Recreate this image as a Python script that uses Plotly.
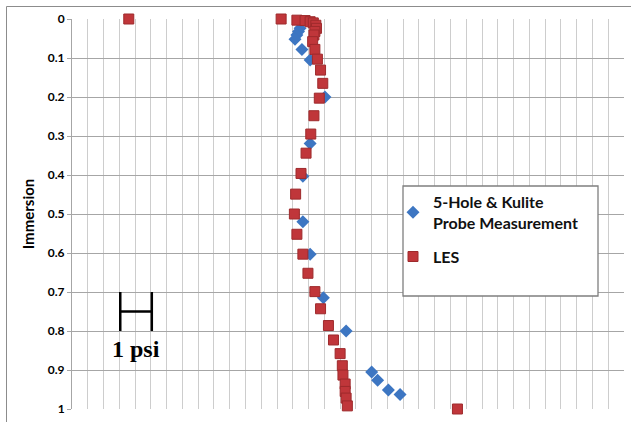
import plotly.graph_objects as go

# Pressure offset (psi) vs immersion
probe_x = [7.23, 7.18, 7.13, 7.07, 7.29, 7.55, 8.02, 7.55, 7.32, 7.32, 7.55, 7.97, 8.69, 9.50, 9.69, 10.03, 10.40]
probe_y = [0.024, 0.032, 0.041, 0.052, 0.078, 0.105, 0.200, 0.319, 0.403, 0.520, 0.603, 0.715, 0.800, 0.905, 0.926, 0.951, 0.963]

les_x = [1.80, 6.63, 7.13, 7.39, 7.55, 7.65, 7.73, 7.75, 7.70, 7.67, 7.63, 7.70, 7.78, 7.88, 7.95, 7.84,
         7.67, 7.57, 7.42, 7.26, 7.09, 7.05, 7.13, 7.32, 7.48, 7.70, 7.88, 8.13, 8.29, 8.50, 8.57, 8.59,
         8.66, 8.66, 8.69, 8.73, 12.22]
les_y = [0.0, 0.0, 0.003, 0.004, 0.007, 0.010, 0.016, 0.024, 0.032, 0.041, 0.058, 0.078, 0.103, 0.131, 0.165, 0.203,
         0.248, 0.295, 0.344, 0.396, 0.449, 0.500, 0.552, 0.603, 0.652, 0.699, 0.743, 0.786, 0.823, 0.858, 0.889, 0.913,
         0.936, 0.955, 0.972, 0.992, 1.0]

y_ticks = [0, 0.1, 0.2, 0.3, 0.4, 0.5, 0.6, 0.7, 0.8, 0.9, 1]
y_labels = ["0", "0.1", "0.2", "0.3", "0.4", "0.5", "0.6", "0.7", "0.8", "0.9", "1"]

fig = go.Figure()
fig.add_trace(go.Scatter(
    x=probe_x, y=probe_y, mode="markers", name="5-Hole & Kulite<br>Probe Measurement",
    legendgroup="probe",
    marker=dict(symbol="diamond", size=10, color="#3d76c2", line=dict(width=0)),
    cliponaxis=False,
))
fig.add_trace(go.Scatter(
    x=les_x, y=les_y, mode="markers", name="LES",
    legendgroup="les",
    marker=dict(symbol="square", size=10, color="#c0363a", line=dict(width=1, color="#9e2a2c")),
    cliponaxis=False,
))

shapes = [
    # outer chart border
    dict(type="rect", xref="paper", yref="paper",
         x0=(6.5 - 72) / 552, x1=(660 - 72) / 552, y0=(409 - 440) / 390, y1=(409 - 6.5) / 390,
         line=dict(color="#8c8c8c", width=1), fillcolor="rgba(0,0,0,0)", layer="below"),
    # legend box
    dict(type="rect", xref="paper", yref="paper",
         x0=(403 - 72) / 552, x1=(598 - 72) / 552, y0=(409 - 296) / 390, y1=(409 - 186) / 390,
         line=dict(color="#7f7f7f", width=1.3), fillcolor="white", layer="above"),
    # 1 psi scale bar
    dict(type="line", xref="x", yref="y", x0=1.53, x1=1.53, y0=0.70, y1=0.80, line=dict(color="black", width=2.5)),
    dict(type="line", xref="x", yref="y", x0=2.53, x1=2.53, y0=0.70, y1=0.80, line=dict(color="black", width=2.5)),
    dict(type="line", xref="x", yref="y", x0=1.53, x1=2.53, y0=0.75, y1=0.75, line=dict(color="black", width=2.5)),
]

fig.update_layout(
    width=631, height=422,
    margin=dict(l=72, r=7, t=19, b=13),
    paper_bgcolor="white", plot_bgcolor="white",
    shapes=shapes,
    showlegend=True,
    legend=dict(
        x=(393 - 72) / 552, y=(409 - 185) / 390, xanchor="left", yanchor="top",
        bgcolor="rgba(0,0,0,0)", borderwidth=0,
        font=dict(family="Lato", size=16, color="#111111", weight="bold"),
        traceorder="grouped", tracegroupgap=10,
    ),
    annotations=[
        dict(x=2.03, y=0.845, xref="x", yref="y", text="<b>1 psi</b>", showarrow=False,
             font=dict(family="Liberation Serif", size=24, color="black")),
    ],
    xaxis=dict(
        range=[0, 17.5], dtick=0.5, tick0=0, showticklabels=False,
        showgrid=True, gridcolor="#cdcdcd", gridwidth=1.4,
        zeroline=False, showline=False, ticks="",
    ),
    yaxis=dict(
        range=[1, 0], tickvals=y_ticks, ticktext=y_labels,
        showgrid=True, gridcolor="#a6a6a6", gridwidth=1,
        zeroline=False, showline=True, linecolor="#a6a6a6", linewidth=1,
        ticks="outside", ticklen=4, tickcolor="#a6a6a6",
        tickfont=dict(family="Lato", size=12, color="#000000", weight="bold"),
        title=dict(text="Immersion", font=dict(family="Lato", size=15, color="#000000", weight="bold"), standoff=9),
    ),
)

fig.write_html("out.html")
